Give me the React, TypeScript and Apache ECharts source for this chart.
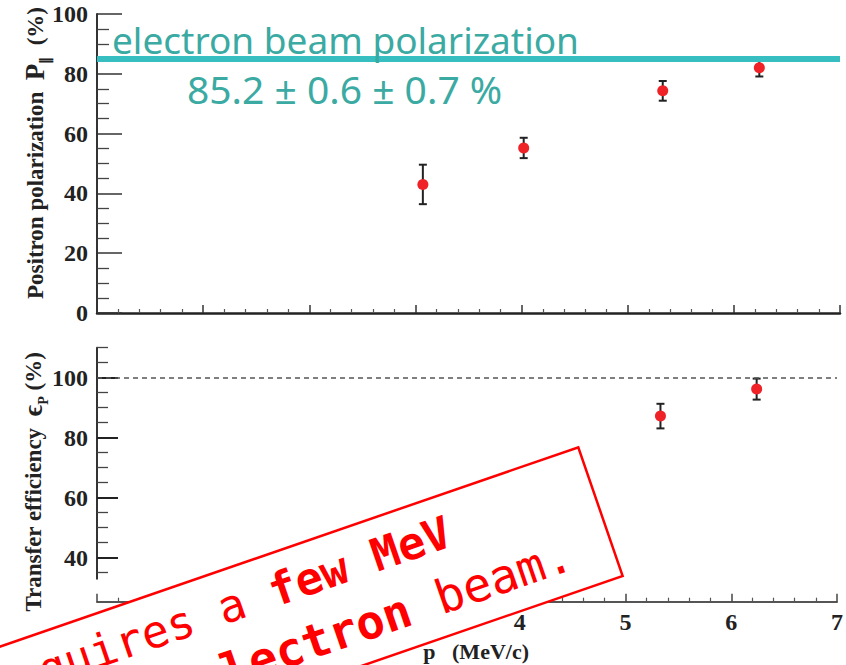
import React, { useEffect, useRef } from "react";
import * as echarts from "echarts";

// Positron polarization vs. momentum
const momentum = [3.07, 4.02, 5.33, 6.24];
const positronPol = [43.0, 55.2, 74.3, 82.0];
const positronPolErr = [6.6, 3.4, 3.3, 2.9];

// Transfer efficiency vs. momentum
const effMomentum = [5.33, 6.24];
const transferEff = [87.2, 96.2];
const transferEffErr = [4.1, 3.5];

// Reference levels
const electronBeamPol = 85.2;
const fullTransfer = 100;

// Axis ticks
const effMajorTicks = [40, 60, 80, 100];
const effMinorTicks = [35, 45, 50, 55, 65, 70, 75, 85, 90, 95, 105, 110];

const serif = "Liberation Serif";
const mono = "DejaVu Sans Mono";
const tickLabel = {
  fontFamily: serif,
  fontWeight: "bold" as const,
  fontSize: 24,
  color: "#222",
};

function errorBars(xs: number[], ys: number[], es: number[], xi: number, yi: number) {
  return {
    type: "custom",
    xAxisIndex: xi,
    yAxisIndex: yi,
    z: 3,
    silent: true,
    data: xs.map((x, i) => [x, ys[i], es[i]]),
    encode: { x: 0, y: 1 },
    renderItem: (_params: any, api: any) => {
      const x = api.value(0);
      const y = api.value(1);
      const e = api.value(2);
      const hi = api.coord([x, y + e]);
      const lo = api.coord([x, y - e]);
      const cap = 4;
      const st = { stroke: "#222", lineWidth: 2 };
      return {
        type: "group",
        children: [
          { type: "line", shape: { x1: hi[0], y1: hi[1], x2: lo[0], y2: lo[1] }, style: st },
          { type: "line", shape: { x1: hi[0] - cap, y1: hi[1], x2: hi[0] + cap, y2: hi[1] }, style: st },
          { type: "line", shape: { x1: lo[0] - cap, y1: lo[1], x2: lo[0] + cap, y2: lo[1] }, style: st },
        ],
      };
    },
  };
}

const titleRich = {
  a: { fontFamily: serif, fontWeight: "bold", fontSize: 23, lineHeight: 34, verticalAlign: "middle", fill: "#222" },
  p: { fontFamily: serif, fontWeight: "bold", fontSize: 27, lineHeight: 34, verticalAlign: "middle", fill: "#222" },
  s: { fontFamily: serif, fontWeight: "bold", fontSize: 14, lineHeight: 14, verticalAlign: "bottom", fill: "#222" },
};

function boxRich(size: number) {
  return {
    n: { fontFamily: mono, fontSize: size, fill: "#ff0000" },
    b: { fontFamily: mono, fontSize: size, fontWeight: "bold", fill: "#ff0000" },
  };
}

export default function App() {
  const ref = useRef<HTMLDivElement>(null);

  useEffect(() => {
    if (!ref.current) return;
    const chart = echarts.init(ref.current, null, { renderer: "svg" });

    const tilt = (19 * Math.PI) / 180;

    const option: any = {
      animation: false,
      backgroundColor: "#fff",
      grid: [
        { left: 97, top: 14, width: 743, height: 299 },
        { left: 97, top: 347.7, width: 743, height: 231 },
      ],
      xAxis: [
        {
          gridIndex: 0,
          type: "value",
          min: 0,
          max: 7,
          interval: 1,
          axisLine: { onZero: false, lineStyle: { color: "#222", width: 2.5 } },
          axisTick: { inside: true, length: 8, lineStyle: { color: "#333", width: 1.5 } },
          minorTick: { show: true, splitNumber: 5, length: 4, lineStyle: { color: "#555", width: 1.2 } },
          axisLabel: { show: false },
          splitLine: { show: false },
        },
        {
          gridIndex: 1,
          type: "value",
          min: 0,
          max: 7,
          interval: 1,
          offset: 23,
          axisLine: { onZero: false, lineStyle: { color: "#555", width: 2 } },
          axisTick: { inside: true, length: 8, lineStyle: { color: "#444", width: 1.5 } },
          minorTick: { show: true, splitNumber: 5, length: 4, lineStyle: { color: "#555", width: 1.2 } },
          axisLabel: { ...tickLabel, margin: 8 },
          splitLine: { show: false },
        },
      ],
      yAxis: [
        {
          gridIndex: 0,
          type: "value",
          position: "left",
          min: 0,
          max: 100,
          interval: 20,
          axisLine: { lineStyle: { color: "#333", width: 2 } },
          axisTick: { inside: true, length: 25, lineStyle: { color: "#333", width: 1.5 } },
          minorTick: { show: true, splitNumber: 4, length: 12, lineStyle: { color: "#444", width: 1.3 } },
          axisLabel: { ...tickLabel, margin: 9 },
          splitLine: { show: false },
        },
        {
          gridIndex: 1,
          type: "value",
          position: "left",
          min: 33,
          max: 110,
          axisLine: { lineStyle: { color: "#333", width: 2 } },
          axisTick: { inside: true, length: 21, customValues: effMajorTicks, lineStyle: { color: "#222", width: 2 } },
          axisLabel: { ...tickLabel, margin: 9, customValues: effMajorTicks },
          splitLine: { show: false },
        },
        {
          gridIndex: 1,
          type: "value",
          position: "left",
          offset: 0,
          min: 33,
          max: 110,
          axisLine: { show: false },
          axisTick: { show: true, inside: true, length: 11, customValues: effMinorTicks, lineStyle: { color: "#444", width: 1.3 } },
          axisLabel: { show: false },
          splitLine: { show: false },
        },
      ],
      series: [
        errorBars(momentum, positronPol, positronPolErr, 0, 0),
        {
          type: "scatter",
          xAxisIndex: 0,
          yAxisIndex: 0,
          z: 4,
          symbolSize: 11,
          itemStyle: { color: "#ee2227", opacity: 1 },
          data: momentum.map((x, i) => [x, positronPol[i]]),
          markLine: {
            silent: true,
            symbol: ["none", "none"],
            label: { show: false },
            lineStyle: { color: "#37bec0", width: 6, type: "solid" },
            data: [{ yAxis: electronBeamPol }],
          },
        },
        errorBars(effMomentum, transferEff, transferEffErr, 1, 1),
        {
          type: "scatter",
          xAxisIndex: 1,
          yAxisIndex: 1,
          z: 4,
          symbolSize: 11,
          itemStyle: { color: "#ee2227", opacity: 1 },
          data: effMomentum.map((x, i) => [x, transferEff[i]]),
          markLine: {
            silent: true,
            symbol: ["none", "none"],
            label: { show: false },
            lineStyle: { color: "#555", width: 1.5, type: [5, 4] },
            data: [{ yAxis: fullTransfer }],
          },
        },
      ],
      graphic: [
        {
          type: "text",
          x: 112,
          y: 53 - 0.36 * 37,
          z: 10,
          style: {
            text: "electron beam polarization",
            fontFamily: "Noto Sans",
            fontSize: 37,
            fill: "#3aaaa3",
            align: "left",
            verticalAlign: "middle",
          },
        },
        {
          type: "text",
          x: 187,
          y: 103 - 0.36 * 39,
          z: 10,
          style: {
            text: `${electronBeamPol} ± 0.6 ± 0.7 %`,
            fontFamily: "Noto Sans",
            fontSize: 39,
            fill: "#3aaaa3",
            align: "left",
            verticalAlign: "middle",
          },
        },
        {
          type: "text",
          x: 35,
          y: 153,
          rotation: Math.PI / 2,
          z: 10,
          style: {
            text: "{a|Positron polarization  }{p|P}{s|∥}{a|  (%)}",
            align: "center",
            verticalAlign: "middle",
            fill: "#222",
            rich: titleRich,
          },
        },
        {
          type: "text",
          x: 33,
          y: 482,
          rotation: Math.PI / 2,
          z: 10,
          style: {
            text: "{a|Transfer efficiency  }{p|ϵ}{s|P}{a| (%)}",
            align: "center",
            verticalAlign: "middle",
            fill: "#222",
            rich: titleRich,
          },
        },
        {
          type: "text",
          x: 529,
          y: 651,
          z: 10,
          style: {
            text: "p   (MeV/c)",
            fontFamily: serif,
            fontWeight: "bold",
            fontSize: 22,
            fill: "#222",
            align: "right",
            verticalAlign: "middle",
          },
        },
        {
          type: "group",
          x: 578.3,
          y: 447.3,
          rotation: tilt,
          z: 100,
          children: [
            {
              type: "rect",
              z: 100,
              shape: { x: -1100, y: 0, width: 1100, height: 136 },
              style: { fill: "#fff", stroke: "#ff0000", lineWidth: 2.5 },
            },
            {
              type: "text",
              x: -149,
              y: 52.5 - 0.346 * 45,
              z: 101,
              style: {
                text: "{n|Polarized positron source requires a }{b|few MeV}",
                align: "right",
                verticalAlign: "middle",
                rich: boxRich(45),
              },
            },
            {
              type: "text",
              x: -42,
              y: 113.6 - 0.346 * 47,
              z: 101,
              style: {
                text: "{b|polarized electron}{n| beam.}",
                align: "right",
                verticalAlign: "middle",
                rich: boxRich(47),
              },
            },
          ],
        },
      ],
    };

    chart.setOption(option);
    return () => chart.dispose();
  }, []);

  return (
    <div
      ref={ref}
      style={{ position: "fixed", left: 0, top: 0, width: 846, height: 665, background: "#fff" }}
    />
  );
}
